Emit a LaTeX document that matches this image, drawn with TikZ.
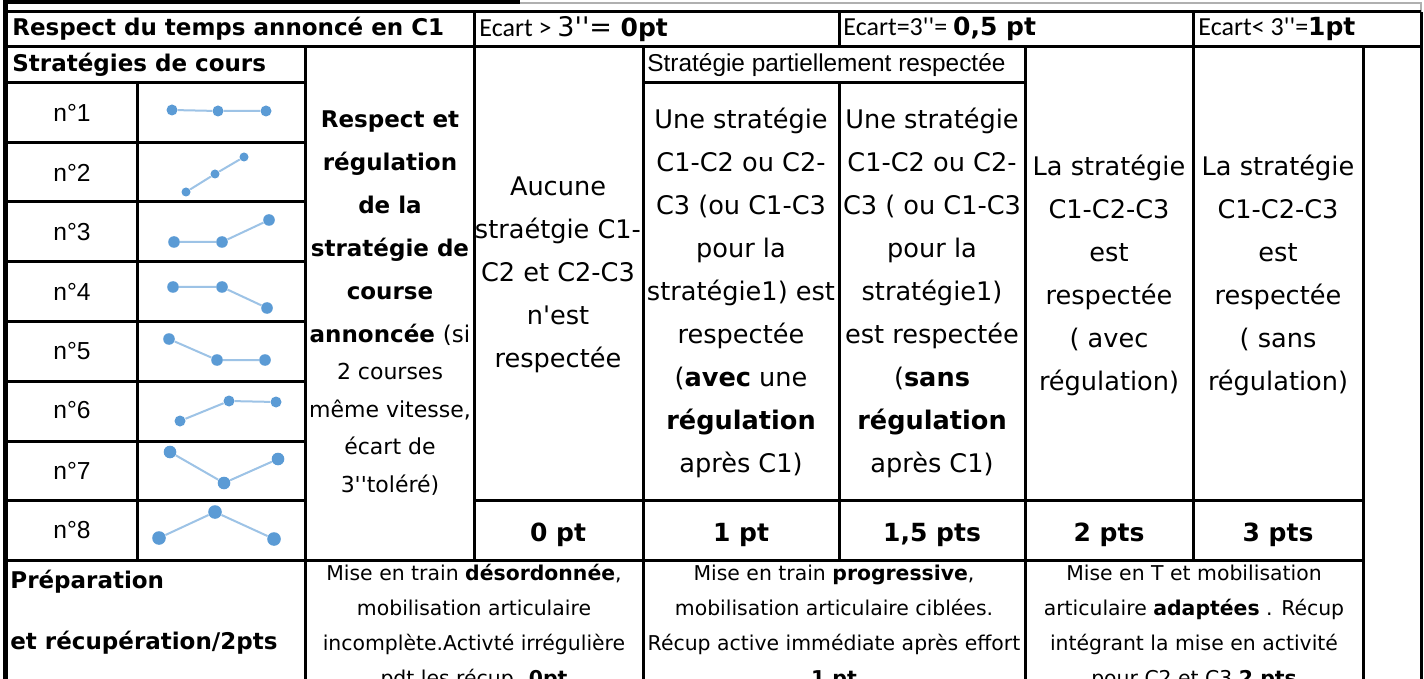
\documentclass[tikz,border=0pt]{standalone}
\usepackage{fontspec}
\setmainfont{DejaVu Sans}
\newfontfamily\arialFont{Liberation Sans}
\newfontfamily\calibriFont{Carlito}
\usepackage{xcolor}
\definecolor{dotBlue}{HTML}{5B9BD5}
\definecolor{lineBlue}{HTML}{9DC3E6}
\definecolor{edgeGray}{HTML}{B0B0B0}
\newcommand{\twoPrimes}{\textquotesingle\textquotesingle}
\tikzset{%
  gridLine/.style={%
    line width=1.5pt,
    draw=black
  },
  borderLine/.style={%
    line width=2.5pt,
    draw=black
  },
  headText/.style={%
    anchor=west,
    inner sep=0pt,
    font=\fontsize{11.5}{14}\selectfont\bfseries
  },
  ecartText/.style={%
    anchor=west,
    inner sep=0pt,
    font=\fontsize{12.5}{14}\selectfont
  },
  bodyText/.style={%
    align=center,
    inner sep=0pt,
    font=\fontsize{12.8}{21.5}\selectfont
  },
  pointText/.style={%
    inner sep=0pt,
    font=\fontsize{12.5}{14}\selectfont\bfseries
  },
  rankText/.style={%
    inner sep=0pt,
    font=\arialFont\fontsize{12.3}{14}\selectfont
  },
  smallText/.style={%
    align=center,
    inner sep=0pt,
    font=\fontsize{10.2}{17.5}\selectfont
  },
  dotMark/.style={%
    circle,
    fill=dotBlue,
    inner sep=0pt
  },
  sparkLine/.style={%
    draw=lineBlue,
    line width=1pt
  }
}

\begin{document}
\begin{tikzpicture}[x=0.5pt, y=-0.5pt]
  \useasboundingbox (0,0) rectangle (1424,679);
  \fill[white] (0,0) rectangle (1424,679);

  \node[headText] (tempsLabel) at (12,29) {Respect du temps annoncé en C1};
  \node[ecartText] (ecartPlus) at (479,29) {{\calibriFont\fontsize{13}{14}\selectfont Ecart > }{\fontsize{13.5}{14}\selectfont 3\twoPrimes= }\textbf{0pt}};
  \node[ecartText] (ecartEgal) at (843,29) {{\calibriFont\fontsize{13}{14}\selectfont Ecart=3\twoPrimes= }\textbf{0,5 pt}};
  \node[ecartText] (ecartMoins) at (1198,29) {{\calibriFont\fontsize{13}{14}\selectfont Ecart< 3\twoPrimes=}\textbf{1pt}};

  \node[headText] (strategiesLabel) at (12,65) {Stratégies de cours};
  \node[anchor=west, inner sep=0pt, font=\arialFont\fontsize{12.2}{14}\selectfont] (partielLabel) at (647,65) {Stratégie partiellement respectée};

  \foreach \r/\y in {1/113, 2/172.5, 3/232, 4/291.5, 5/351, 6/410.5, 7/470.5, 8/530}
    \node[rankText] (rank\r) at (72,\y) {n°\r};

  \foreach \r/\ax/\ay/\bx/\by/\cx/\cy/\ds in {1/172/110/218/111/266/111/5.5pt,
      2/186/192/215/174/244/157/4.5pt, 3/174/242/222/242/269/220/5.8pt,
      4/173/287/222/287/267/308/5.8pt, 5/169/339/217/360/265/360/5.8pt,
      6/180/421/229/401/276/402/5.5pt, 7/170/452/224/483/278/459/6.3pt,
      8/159/538/215/512/274/539/6.8pt} {
    \node[dotMark, minimum size=\ds] (d\r-a) at (\ax,\ay) {};
    \node[dotMark, minimum size=\ds] (d\r-b) at (\bx,\by) {};
    \node[dotMark, minimum size=\ds] (d\r-c) at (\cx,\cy) {};
    \draw[sparkLine] (d\r-a) -- (d\r-b) -- (d\r-c);
  }

  \node[bodyText, font=\fontsize{11.5}{21.5}\selectfont\bfseries] (regulationText) at (390,303)
    {Respect et\\ régulation\\ de la\\ stratégie de\\ course\\ annoncée {\mdseries (si}\\[-2.75pt]
     {\mdseries\fontsize{11}{14}\selectfont 2 courses}\\[-2.75pt]
     {\mdseries\fontsize{11}{14}\selectfont même vitesse,}\\[-2.75pt]
     {\mdseries\fontsize{11}{14}\selectfont écart de}\\[-2.75pt]
     {\mdseries\fontsize{11}{14}\selectfont 3\twoPrimes{}toléré)}};
  \node[bodyText] (aucuneText) at (558,275)
    {Aucune\\ straétgie C1-\\ C2 et C2-C3\\ n\textquotesingle est\\ respectée};
  \node[bodyText] (avecUneText) at (741,293)
    {Une stratégie\\ C1-C2 ou C2-\\ C3 (ou C1-C3\\ pour la\\ stratégie1) est\\ respectée\\
     (\textbf{avec} une\\ \textbf{régulation}\\ après C1)};
  \node[bodyText] (sansUneText) at (932,293)
    {Une stratégie\\ C1-C2 ou C2-\\ C3 ( ou C1-C3\\ pour la\\ stratégie1)\\ est respectée\\
     (\textbf{sans}\\ \textbf{régulation}\\ après C1)};
  \node[bodyText] (avecText) at (1109,275)
    {La stratégie\\ C1-C2-C3\\ est\\ respectée\\ ( avec\\ régulation)};
  \node[bodyText] (sansText) at (1278,275)
    {La stratégie\\ C1-C2-C3\\ est\\ respectée\\ ( sans\\ régulation)};

  \node[pointText] (pointsZero) at (558,535) {0 pt};
  \node[pointText] (pointsUn) at (741,535) {1 pt};
  \node[pointText] (pointsUnCinq) at (932,535) {1,5 pts};
  \node[pointText] (pointsDeux) at (1109,535) {2 pts};
  \node[pointText] (pointsTrois) at (1278,535) {3 pts};

  \node[anchor=west, align=left, inner sep=0pt, font=\fontsize{11.5}{30.5}\selectfont\bfseries] (prepLabel) at (10,612.5)
    {Préparation\\ et récupération/2pts};

  \begin{scope}
    \clip (305,561.5) rectangle (1363,679);
    \node[smallText] (prepZero) at (474,627)
      {Mise en train \textbf{désordonnée},\\ mobilisation articulaire\\ incomplète.Activté irrégulière\\ pdt les récup. \textbf{0pt}};
    \node[smallText] (prepUn) at (834,627)
      {Mise en train \textbf{progressive},\\ mobilisation articulaire ciblées.\\ Récup active immédiate après effort\\ \textbf{1 pt}};
    \node[smallText] (prepDeux) at (1194,627)
      {Mise en T et mobilisation\\ articulaire \textbf{adaptées} . Récup\\ intégrant la mise en activité\\ pour C2 et C3 \textbf{2 pts}};
  \end{scope}

  \draw[line width=2pt] (8,2) -- (520,2);
  \draw[edgeGray, line width=0.6pt] (520,3) -- (1421,3) -- (1421,12);

  \draw[gridLine] (5.5,12) -- (1421,12);
  \draw[gridLine] (5.5,47) -- (1421,47);
  \draw[gridLine] (5.5,83) -- (305,83) (643,83) -- (1025,83);
  \foreach \y in {143,202,262,321,381,441,500}
    \draw[gridLine] (5.5,\y) -- (305,\y);
  \draw[gridLine] (474,500) -- (1363,500);
  \draw[gridLine] (5.5,560) -- (1363,560);
  \draw[gridLine] (137,83) -- (137,560);
  \draw[gridLine] (305,47) -- (305,679);
  \draw[gridLine] (474,12) -- (474,560);
  \draw[gridLine] (643,47) -- (643,679);
  \draw[gridLine] (839,12) -- (839,47) (839,83) -- (839,560);
  \draw[gridLine] (1025,47) -- (1025,679);
  \draw[gridLine] (1193,12) -- (1193,560);
  \draw[gridLine] (1363,47) -- (1363,679);
  \draw[gridLine] (1421,12) -- (1421,679);
  \draw[borderLine] (5.5,0) -- (5.5,679);
\end{tikzpicture}
\end{document}
